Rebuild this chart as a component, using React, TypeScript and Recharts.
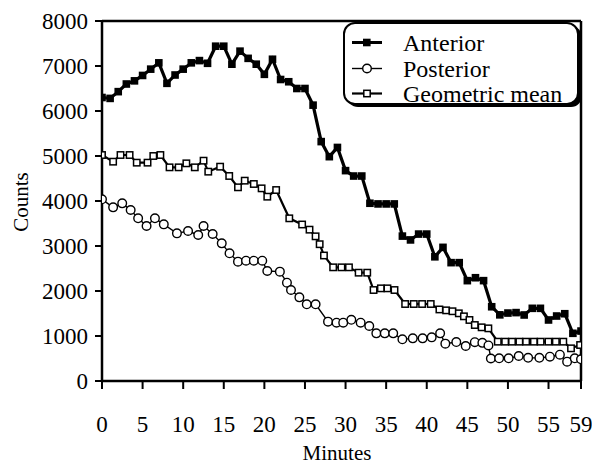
import React from "react";
import { LineChart, Line, XAxis, YAxis, ReferenceLine } from "recharts";

const anteriorMinutes = [0,1,2,3,4,5,6,7,8,9,10,11,12,13,14,15,16,17,18,19,20,21,22,23,24,25,26,27,28,29,30,31,32,33,34,35,36,37,38,39,40,41,42,43,44,45,46,47,48,49,50,51,52,53,54,55,56,57,58,59];
const anteriorCounts = [6300,6280,6430,6600,6670,6790,6930,7070,6615,6800,6930,7070,7120,7060,7440,7440,7040,7330,7170,7040,6815,7150,6700,6650,6500,6500,6130,5320,4985,5190,4675,4555,4555,3950,3935,3935,3935,3220,3135,3265,3265,2760,2970,2630,2630,2230,2295,2230,1650,1470,1510,1520,1467,1615,1615,1356,1444,1495,1060,1110];

const posteriorMinutes = [0,1.37,2.49,3.53,4.45,5.49,6.52,7.61,9.23,10.6,11.85,12.51,13.63,14.75,15.71,16.75,17.74,18.7,19.74,20.36,21.91,22.78,23.28,24.31,25.22,26.31,27.84,28.89,29.71,30.71,31.86,32.92,33.79,34.83,35.87,37.0,38.28,39.49,40.61,41.65,42.29,43.64,44.8,45.92,46.85,47.6,47.9,48.92,50.09,51.33,52.49,53.87,55.17,56.4,57.29,58.23,59];
const posteriorCounts = [4037,3859,3948,3800,3615,3444,3615,3481,3281,3333,3244,3444,3267,3059,2837,2652,2674,2674,2674,2444,2430,2185,2022,1859,1704,1704,1319,1296,1296,1360,1296,1222,1059,1059,1059,926,948,948,970,1059,830,866,778,863,848,790,500,504,504,556,515,515,540,585,430,504,482];

const geoMinutes = [0,1.37,2.28,3.4,4.28,5.61,6.32,7.19,8.32,9.44,10.39,11.43,12.51,13.09,14.55,15.67,16.75,17.58,18.7,19.66,20.36,21.45,23.07,24.65,25.56,26.31,26.81,27.34,28.47,29.49,30.42,31.61,32.67,33.45,34.35,35.16,36.03,37.34,38.4,39.43,40.49,41.56,42.39,43.17,43.95,44.58,45.26,45.92,46.76,47.59,48.75,49.66,50.5,51.41,52.24,53.2,54.03,54.99,55.9,56.82,57.77,58.89];
const geoCounts = [5022,4874,5022,5022,4852,4852,5000,5022,4748,4748,4837,4748,4896,4652,4763,4556,4304,4452,4378,4281,4096,4244,3615,3478,3363,3215,3040,2789,2526,2526,2526,2407,2407,2022,2059,2059,2022,1711,1711,1711,1711,1590,1570,1550,1504,1437,1356,1244,1193,1170,874,874,874,874,874,874,874,874,874,874,726,800];

const xTicks = [0,5,10,15,20,25,30,35,40,45,50,55,59];
const yTicks = [0,1000,2000,3000,4000,5000,6000,7000,8000];

const anteriorData = anteriorMinutes.map((t, i) => ({ t, v: anteriorCounts[i] }));
const posteriorData = posteriorMinutes.map((t, i) => ({ t, v: posteriorCounts[i] }));
const geoData = geoMinutes.map((t, i) => ({ t, v: geoCounts[i] }));

const FONT = "'Liberation Serif', 'Times New Roman', Times, serif";

const FilledSquare = (p: any) => {
  if (p.cx == null || p.cy == null) return <g key={p.index} />;
  return <rect key={p.index} x={p.cx - 3.8} y={p.cy - 3.8} width={7.6} height={7.6} fill="#000" />;
};
const OpenSquare = (p: any) => {
  if (p.cx == null || p.cy == null) return <g key={p.index} />;
  return <rect key={p.index} x={p.cx - 3.2} y={p.cy - 3.2} width={6.4} height={6.4} fill="#fff" stroke="#000" strokeWidth={1.5} />;
};
const OpenCircle = (p: any) => {
  if (p.cx == null || p.cy == null) return <g key={p.index} />;
  return <circle key={p.index} cx={p.cx} cy={p.cy} r={4.3} fill="#fff" stroke="#000" strokeWidth={1.4} />;
};

const tickStyle = { fill: "#000", fontSize: 23, fontFamily: FONT };

export default function App() {
  return (
    <div style={{ position: "absolute", left: 0, top: 0, width: 592, height: 467, background: "#fff", fontFamily: FONT }}>
      <LineChart width={592} height={467} margin={{ top: 21, right: 11, bottom: 0, left: 0 }} style={{ fontFamily: FONT }}>
        <XAxis
          type="number"
          dataKey="t"
          domain={[0, 59]}
          ticks={xTicks}
          interval={0}
          allowDataOverflow
          height={86}
          tickSize={8}
          tickMargin={27}
          tick={tickStyle}
          axisLine={{ stroke: "#000", strokeWidth: 2.5 }}
          tickLine={{ stroke: "#000", strokeWidth: 2 }}
        />
        <YAxis
          type="number"
          domain={[0, 8000]}
          ticks={yTicks}
          interval={0}
          width={102}
          tickSize={7}
          tickMargin={7}
          tick={tickStyle}
          axisLine={{ stroke: "#000", strokeWidth: 2.5 }}
          tickLine={{ stroke: "#000", strokeWidth: 2 }}
        />
        <ReferenceLine y={8000} stroke="#000" strokeWidth={2.5} />
        <ReferenceLine x={59} stroke="#000" strokeWidth={2.5} />
        <Line data={anteriorData} dataKey="v" stroke="#000" strokeWidth={3.2} dot={FilledSquare} isAnimationActive={false} />
        <Line data={geoData} dataKey="v" stroke="#000" strokeWidth={2.2} dot={OpenSquare} isAnimationActive={false} />
        <Line data={posteriorData} dataKey="v" stroke="#000" strokeWidth={1.4} dot={OpenCircle} isAnimationActive={false} />
      </LineChart>
      <svg width={592} height={467} style={{ position: "absolute", left: 0, top: 0, pointerEvents: "none", fontFamily: FONT }}>
        <text x={337} y={453} textAnchor="middle" dominantBaseline="central" fontSize={21} fill="#000">Minutes</text>
        <text x={21} y={202} textAnchor="middle" dominantBaseline="central" fontSize={21} fill="#000" transform="rotate(-90 21 202)">Counts</text>
        <rect x={347} y={26} width={235} height={81} rx={11} fill="#000" />
        <rect x={344} y={23} width={234} height={81} rx={11} fill="#fff" stroke="#000" strokeWidth={2} />
        <line x1={352} y1={42.5} x2={382} y2={42.5} stroke="#000" strokeWidth={3} />
        <rect x={363} y={38.7} width={7.6} height={7.6} fill="#000" />
        <text x={403} y={50.5} fontSize={24} fill="#000">Anterior</text>
        <line x1={352} y1={68.5} x2={382} y2={68.5} stroke="#000" strokeWidth={1.4} />
        <circle cx={367} cy={68.5} r={4.3} fill="#fff" stroke="#000" strokeWidth={1.4} />
        <text x={403} y={76.5} fontSize={24} fill="#000">Posterior</text>
        <line x1={352} y1={93.5} x2={382} y2={93.5} stroke="#000" strokeWidth={2.2} />
        <rect x={363.8} y={90.3} width={6.4} height={6.4} fill="#fff" stroke="#000" strokeWidth={1.5} />
        <text x={403} y={101.5} fontSize={24} fill="#000">Geometric mean</text>
      </svg>
    </div>
  );
}
